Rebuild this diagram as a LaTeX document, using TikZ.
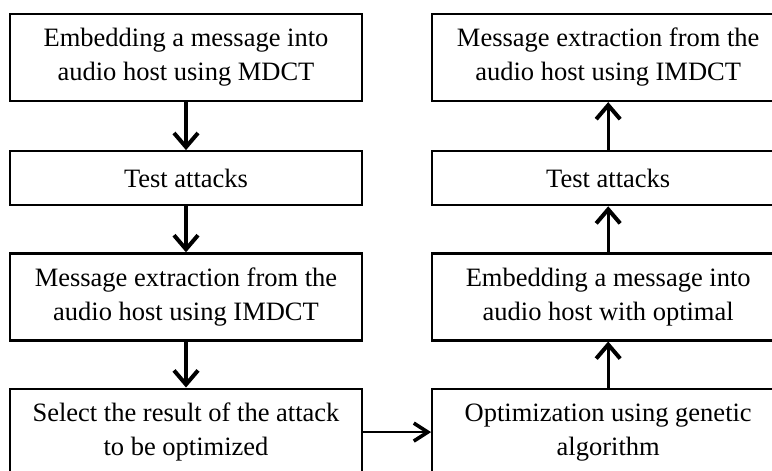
\documentclass[tikz,border=0pt]{standalone}
\usepackage{fontspec}
\setmainfont{Liberation Serif}
\usepackage{tikz}
\usetikzlibrary{positioning,arrows.meta}

\begin{document}
\begin{tikzpicture}[x=1pt, y=1pt, node distance=46pt and 68pt,
  every node/.style={font=\fontsize{26.5}{34}\selectfont},
  stepbox/.style={draw, line width=2.2pt, minimum width=352pt, minimum height=87pt, inner sep=0pt, align=center},
  thinbox/.style={stepbox, minimum height=54pt},
  flow/.style={-{Straight Barb[length=14pt, width=24pt, line width=4pt]}, line width=3.4pt},
  side/.style={-{Straight Barb[length=14pt, width=18pt, line width=3.6pt]}, line width=2.4pt}]
  \clip (0,0) rectangle (772,-471);

  \node[stepbox] (embed) at (186,-57.5) {Embedding a message into\\audio host using MDCT};
  \node[thinbox, below=48pt of embed] (attack) {Test attacks};
  \node[stepbox, below=of attack] (extract) {Message extraction from the\\audio host using IMDCT};
  \node[stepbox, below=of extract] (select) {Select the result of the attack\\to be optimized};

  \node[stepbox, right=of select] (genetic) {Optimization using genetic\\algorithm};
  \node[stepbox, above=of genetic] (optembed) {Embedding a message into\\audio host with optimal};
  \node[thinbox, above=of optembed] (reattack) {Test attacks};
  \node[stepbox, above=48pt of reattack] (reextract) {Message extraction from the\\audio host using IMDCT};

  \draw[flow] (embed) -- (attack);
  \draw[flow] (attack) -- (extract);
  \draw[flow] (extract) -- (select);
  \draw[side] (select.east) -- (genetic.west);
  \draw[flow] (genetic) -- (optembed);
  \draw[flow] (optembed) -- (reattack);
  \draw[flow] (reattack) -- (reextract);
\end{tikzpicture}
\end{document}
